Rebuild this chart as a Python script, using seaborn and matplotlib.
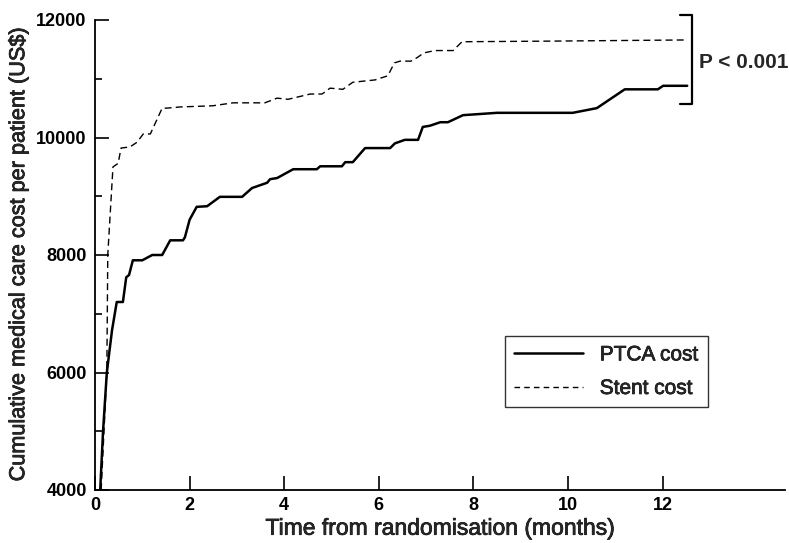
import matplotlib
matplotlib.use("Agg")
import matplotlib.pyplot as plt
import matplotlib.patheffects as pe
import seaborn as sns
import pandas as pd
import numpy as np
from matplotlib.lines import Line2D

sns.set_theme(style="ticks")
plt.rcParams['font.family'] = ['Liberation Sans', 'DejaVu Sans']

# PTCA cost (solid)
ptca_months = [0.11, 0.17, 0.25, 0.36, 0.46, 0.59, 0.66, 0.72, 0.80,
               1.00, 1.21, 1.42, 1.59, 1.86, 1.90, 2.00, 2.15, 2.37, 2.64, 3.11,
               3.32, 3.64, 3.70, 3.85, 4.19, 4.69, 4.76, 5.22, 5.29, 5.45,
               5.71, 6.24, 6.34, 6.55, 6.83, 6.93, 7.08, 7.30, 7.46, 7.78,
               8.50, 10.10, 10.61, 11.20, 11.90, 12.01, 12.52]
ptca_cost = [4000, 5000, 6000, 6720, 7200, 7200, 7620, 7660, 7910,
             7910, 8000, 8000, 8250, 8250, 8300, 8600, 8820, 8830, 8990, 8990,
             9140, 9230, 9290, 9310, 9460, 9460, 9510, 9510, 9580, 9580,
             9820, 9820, 9900, 9960, 9960, 10180, 10200, 10260, 10260, 10380,
             10420, 10420, 10500, 10820, 10820, 10880, 10880]

# Stent cost (dashed)
stent_months = [0.13, 0.25, 0.27, 0.38, 0.49, 0.55, 0.74, 0.89, 1.02, 1.17,
                1.42, 1.52, 1.80, 2.49, 2.92, 3.59, 3.85, 4.08, 4.55, 4.80,
                4.97, 5.24, 5.45, 5.92, 6.19, 6.33, 6.45, 6.68, 6.83, 6.95,
                7.19, 7.57, 7.76, 9.55, 12.45]
stent_cost = [4000, 6000, 8000, 9500, 9560, 9820, 9840, 9920, 10060, 10060,
              10500, 10500, 10520, 10540, 10590, 10590, 10670, 10650, 10740, 10740,
              10840, 10820, 10940, 10980, 11050, 11270, 11300, 11300, 11370, 11440,
              11480, 11480, 11630, 11640, 11660]

legend_labels = ["PTCA cost", "Stent cost"]
y_ticks = [4000, 6000, 8000, 10000, 12000]
x_ticks = [0, 2, 4, 6, 8, 10, 12]

W, H = 789, 543
fig = plt.figure(figsize=(W / 100, H / 100), dpi=100)
ax = fig.add_axes([95 / W, (H - 490) / H, (785 - 95) / W, (490 - 20) / H])

df_p = pd.DataFrame({"x": ptca_months, "y": ptca_cost})
df_s = pd.DataFrame({"x": stent_months, "y": stent_cost})
sns.lineplot(data=df_p, x="x", y="y", ax=ax, color="black", lw=1.8,
             sort=False, estimator=None, label=legend_labels[0])
sns.lineplot(data=df_s, x="x", y="y", ax=ax, color="black", lw=1.0,
             sort=False, estimator=None, label=legend_labels[1])
ax.lines[1].set_dashes([5, 3])

ax.set_xlim(0, (785 - 95) / 47.3)
ax.set_ylim(4000, 12000)
ax.set_xticks(x_ticks)
ax.set_yticks(y_ticks)
ax.set_yticks([5000, 7000, 9000, 11000], minor=True)
ax.tick_params(axis="both", which="major", direction="in", length=10,
               width=1.2, labelsize=13, color="black", labelcolor="black")
ax.tick_params(axis="y", which="minor", direction="in", length=5, width=1.2,
               color="black")
ax.tick_params(axis="x", pad=5)
ax.tick_params(axis="y", pad=6)
for lab in ax.get_xticklabels() + ax.get_yticklabels():
    lab.set_fontweight("bold")

sns.despine(ax=ax)
for s in ["left", "bottom"]:
    ax.spines[s].set_linewidth(1.3)
    ax.spines[s].set_color("black")

thick = [pe.withStroke(linewidth=0.5, foreground="black")]
xl = ax.set_xlabel("Time from randomisation (months)", fontsize=16.5, labelpad=2)
yl = ax.set_ylabel("Cumulative medical care cost per patient (US$)", fontsize=15.6,
                   labelpad=5)
xl.set_path_effects(thick)
yl.set_path_effects(thick)

leg = ax.legend(loc="upper left",
                bbox_to_anchor=((505 - 95) / 690, (490 - 336) / 470),
                frameon=True, fancybox=False, fontsize=15, handlelength=3.3,
                borderpad=0.45, labelspacing=0.7, handletextpad=0.8,
                borderaxespad=0)
leg.get_frame().set_edgecolor("black")
leg.get_frame().set_linewidth(1.0)
for h in leg.get_lines():
    h.set_color("black")
leg.get_lines()[1].set_dashes([4, 3])
leg.get_lines()[1].set_linewidth(1.0)
for t in leg.get_texts():
    t.set_path_effects(thick)

# bracket with p-value
xs = [680, 692, 692, 680]
ys = [15, 15, 104, 104]
fig.add_artist(Line2D([x / W for x in xs], [1 - y / H for y in ys],
                      color="black", lw=1.6))
fig.text(699 / W, 1 - 63 / H, "P < 0.001", fontsize=15, fontweight="bold",
         va="center", ha="left")

fig.savefig("out.png", dpi=100)
